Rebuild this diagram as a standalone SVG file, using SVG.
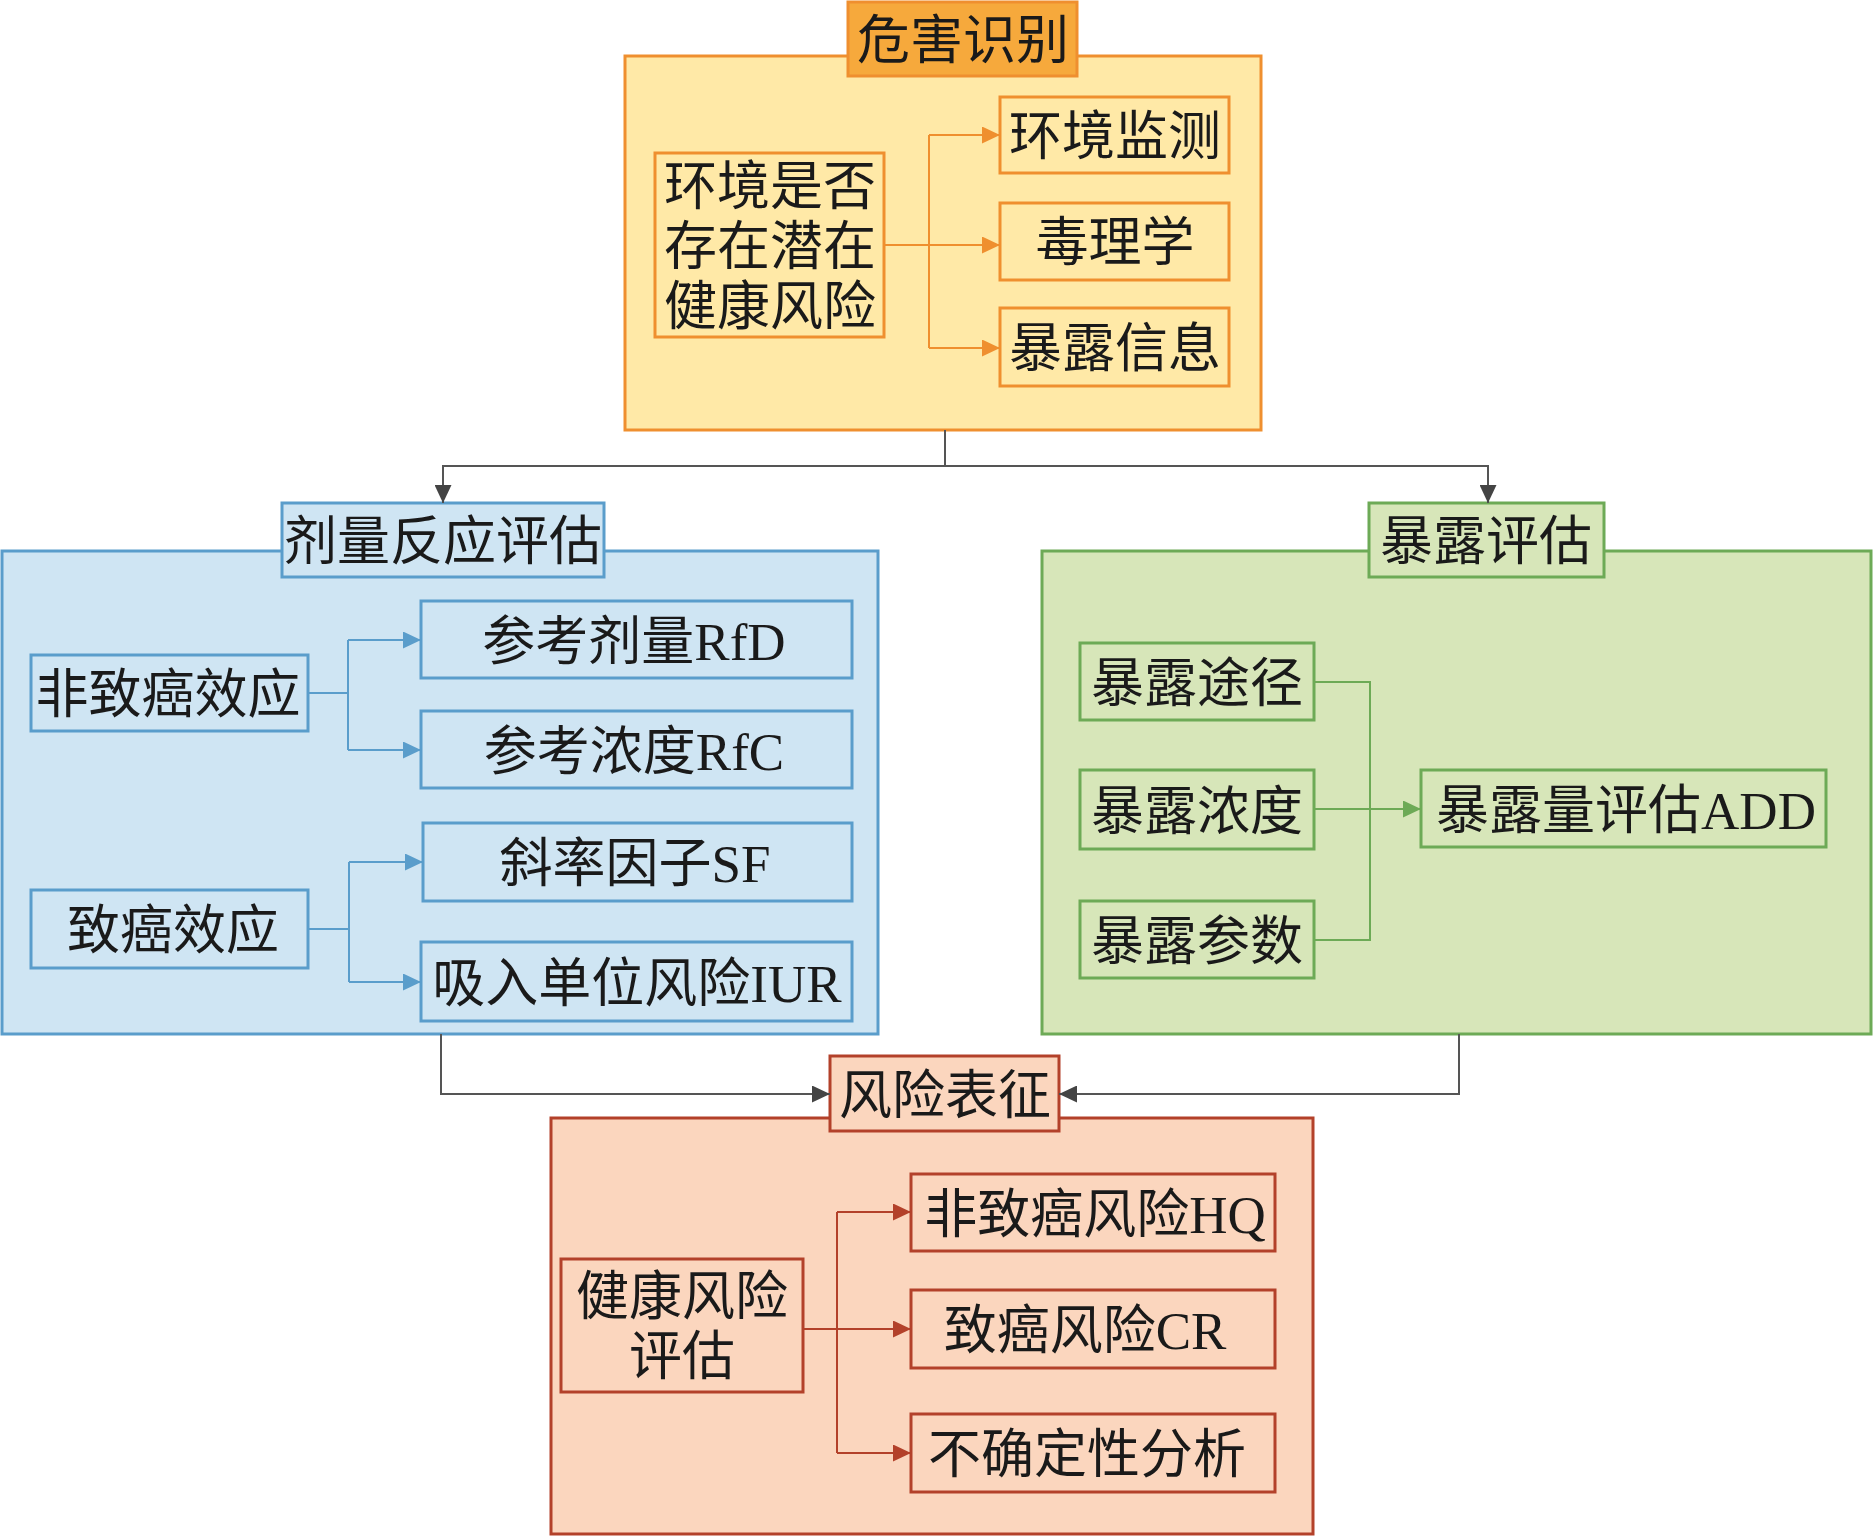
<svg xmlns="http://www.w3.org/2000/svg" width="1873" height="1536" viewBox="0 0 1873 1536">
<defs>
<style>
text{font-family:"Liberation Serif","Noto Sans CJK SC",serif;font-size:53px;fill:#1a1a1a;text-anchor:middle}
.y{fill:#FFE9A7;stroke:#EF8F2F;stroke-width:3}
.yt{fill:#F6A93C;stroke:#EF8F2F;stroke-width:3}
.b{fill:#CFE5F3;stroke:#5A9DCB;stroke-width:3}
.g{fill:#D7E6B9;stroke:#6DAA56;stroke-width:3}
.r{fill:#FBD6BE;stroke:#B3412A;stroke-width:3}
.cy{fill:none;stroke:#EF8F2F;stroke-width:2}
.cb{fill:none;stroke:#5A9DCB;stroke-width:2}
.cg{fill:none;stroke:#6DAA56;stroke-width:2}
.cr{fill:none;stroke:#B3412A;stroke-width:2}
.ck{fill:none;stroke:#555555;stroke-width:2}
</style>
<marker id="ay" markerUnits="userSpaceOnUse" markerWidth="18" markerHeight="17" refX="18" refY="8.5" orient="auto"><path d="M0,0 L18,8.5 L0,17 z" fill="#EF8F2F"/></marker>
<marker id="ab" markerUnits="userSpaceOnUse" markerWidth="18" markerHeight="17" refX="18" refY="8.5" orient="auto"><path d="M0,0 L18,8.5 L0,17 z" fill="#5A9DCB"/></marker>
<marker id="ag" markerUnits="userSpaceOnUse" markerWidth="18" markerHeight="17" refX="18" refY="8.5" orient="auto"><path d="M0,0 L18,8.5 L0,17 z" fill="#6DAA56"/></marker>
<marker id="ar" markerUnits="userSpaceOnUse" markerWidth="18" markerHeight="17" refX="18" refY="8.5" orient="auto"><path d="M0,0 L18,8.5 L0,17 z" fill="#B3412A"/></marker>
<marker id="ak" markerUnits="userSpaceOnUse" markerWidth="18" markerHeight="17" refX="18" refY="8.5" orient="auto"><path d="M0,0 L18,8.5 L0,17 z" fill="#444444"/></marker>
</defs>
<rect width="1873" height="1536" fill="#ffffff"/>

<!-- Hazard identification -->
<g id="hazard-panel"><rect class="y" x="625" y="56" width="636" height="374"/></g>
<g id="hazard-title"><rect class="yt" x="848" y="2" width="229" height="74"/><text x="963" y="59">危害识别</text></g>
<g id="env-risk"><rect class="y" x="655" y="153" width="229" height="184"/>
<text x="770" y="205">环境是否</text><text x="770" y="265">存在潜在</text><text x="770" y="325">健康风险</text></g>
<g id="env-monitor"><rect class="y" x="1000" y="97" width="229" height="76"/><text x="1115" y="155">环境监测</text></g>
<g id="toxicology"><rect class="y" x="1000" y="203" width="229" height="77"/><text x="1115" y="261">毒理学</text></g>
<g id="exposure-info"><rect class="y" x="1000" y="308" width="229" height="78"/><text x="1115" y="367">暴露信息</text></g>

<!-- Dose-response -->
<g id="dose-panel"><rect class="b" x="2" y="551" width="876" height="483"/></g>
<g id="dose-title"><rect class="b" x="282" y="503" width="322" height="74"/><text x="443" y="560">剂量反应评估</text></g>
<g id="noncarc-effect"><rect class="b" x="31" y="655" width="277" height="76"/><text x="168" y="713">非致癌效应</text></g>
<g id="carc-effect"><rect class="b" x="31" y="890" width="277" height="78"/><text x="173" y="949">致癌效应</text></g>
<g id="rfd"><rect class="b" x="421" y="601" width="431" height="77"/><text x="634" y="660">参考剂量RfD</text></g>
<g id="rfc"><rect class="b" x="421" y="711" width="431" height="77"/><text x="634" y="770">参考浓度RfC</text></g>
<g id="sf"><rect class="b" x="423" y="823" width="429" height="78"/><text x="635" y="882">斜率因子SF</text></g>
<g id="iur"><rect class="b" x="421" y="942" width="431" height="79"/><text x="637" y="1002">吸入单位风险IUR</text></g>

<!-- Exposure assessment -->
<g id="exposure-panel"><rect class="g" x="1042" y="551" width="829" height="483"/></g>
<g id="exposure-title"><rect class="g" x="1369" y="503" width="235" height="74"/><text x="1486" y="560">暴露评估</text></g>
<g id="route"><rect class="g" x="1080" y="643" width="234" height="77"/><text x="1197" y="702">暴露途径</text></g>
<g id="concentration"><rect class="g" x="1080" y="770" width="234" height="79"/><text x="1197" y="830">暴露浓度</text></g>
<g id="parameters"><rect class="g" x="1080" y="901" width="234" height="77"/><text x="1197" y="960">暴露参数</text></g>
<g id="add"><rect class="g" x="1421" y="770" width="405" height="77"/><text x="1626" y="829">暴露量评估ADD</text></g>

<!-- Risk characterization -->
<g id="risk-panel"><rect class="r" x="551" y="1118" width="762" height="416"/></g>
<g id="risk-title"><rect class="r" x="830" y="1056" width="229" height="75"/><text x="945" y="1114">风险表征</text></g>
<g id="health-risk"><rect class="r" x="561" y="1259" width="242" height="133"/><text x="682" y="1315">健康风险</text><text x="682" y="1375">评估</text></g>
<g id="hq"><rect class="r" x="911" y="1174" width="364" height="77"/><text x="1095" y="1233">非致癌风险HQ</text></g>
<g id="cr"><rect class="r" x="911" y="1290" width="364" height="78"/><text x="1085" y="1349">致癌风险CR</text></g>
<g id="uncertainty"><rect class="r" x="911" y="1414" width="364" height="78"/><text x="1087" y="1473">不确定性分析</text></g>

<g id="connectors">
<path class="cy" d="M884,245 H1000" marker-end="url(#ay)"/>
<path class="cy" d="M929,135 V348"/>
<path class="cy" d="M929,135 H1000" marker-end="url(#ay)"/>
<path class="cy" d="M929,348 H1000" marker-end="url(#ay)"/>

<path class="cb" d="M308,693 H348"/>
<path class="cb" d="M348,640 V750"/>
<path class="cb" d="M348,640 H421" marker-end="url(#ab)"/>
<path class="cb" d="M348,750 H421" marker-end="url(#ab)"/>
<path class="cb" d="M308,929 H349"/>
<path class="cb" d="M349,862 V982"/>
<path class="cb" d="M349,862 H423" marker-end="url(#ab)"/>
<path class="cb" d="M349,982 H421" marker-end="url(#ab)"/>

<path class="cg" d="M1314,682 H1370 V940 H1314"/>
<path class="cg" d="M1314,809 H1421" marker-end="url(#ag)"/>

<path class="cr" d="M803,1329 H911" marker-end="url(#ar)"/>
<path class="cr" d="M837,1212 V1453"/>
<path class="cr" d="M837,1212 H911" marker-end="url(#ar)"/>
<path class="cr" d="M837,1453 H911" marker-end="url(#ar)"/>

<path class="ck" d="M945,430 V466 H443 V503" marker-end="url(#ak)"/>
<path class="ck" d="M945,466 H1488 V503" marker-end="url(#ak)"/>
<path class="ck" d="M441,1034 V1094 H830" marker-end="url(#ak)"/>
<path class="ck" d="M1459,1034 V1094 H1059" marker-end="url(#ak)"/>
</g>
</svg>
